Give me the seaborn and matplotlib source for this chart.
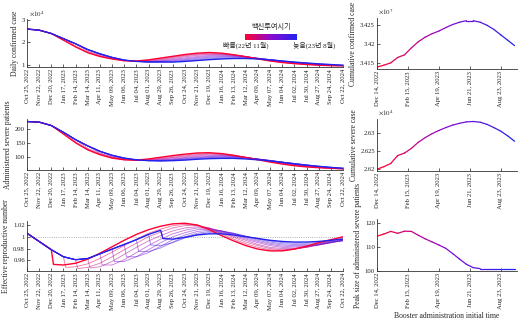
import numpy as np
import pandas as pd
import matplotlib
matplotlib.use('Agg')
import matplotlib.pyplot as plt
import matplotlib.dates as mdates
from matplotlib.colors import LinearSegmentedColormap
from matplotlib.cm import ScalarMappable
from matplotlib.ticker import FuncFormatter
import seaborn as sns

# ---------------- data ----------------
tick_dates = pd.date_range('2022-10-25', periods=27, freq='28D')
boost_idx = [2, 3, 4, 5, 6, 7, 8, 9, 10, 11]   # booster start (index into tick_dates)

daily_base = [2.60, 2.55, 2.40, 2.17, 1.94, 1.68, 1.49, 1.33, 1.21, 1.15, 1.13, 1.13]
daily_post = [
    [2.10, 1.80, 1.54, 1.37, 1.26, 1.18, 1.17, 1.22, 1.30, 1.38, 1.46, 1.52, 1.55, 1.52, 1.45, 1.36, 1.26, 1.17, 1.10, 1.05, 1.01, 0.98, 0.96, 0.95],
    [1.84, 1.57, 1.39, 1.27, 1.18, 1.16, 1.20, 1.27, 1.35, 1.43, 1.49, 1.52, 1.50, 1.45, 1.37, 1.27, 1.18, 1.11, 1.06, 1.02, 0.99, 0.97, 0.95],
    [1.61, 1.41, 1.28, 1.19, 1.15, 1.18, 1.24, 1.32, 1.40, 1.46, 1.49, 1.48, 1.44, 1.37, 1.28, 1.19, 1.12, 1.07, 1.03, 0.99, 0.97, 0.96],
    [1.44, 1.30, 1.20, 1.15, 1.16, 1.21, 1.28, 1.36, 1.42, 1.46, 1.46, 1.43, 1.37, 1.29, 1.20, 1.13, 1.08, 1.03, 1.00, 0.98, 0.96],
    [1.32, 1.21, 1.15, 1.14, 1.18, 1.24, 1.31, 1.37, 1.42, 1.43, 1.41, 1.36, 1.29, 1.21, 1.14, 1.08, 1.04, 1.01, 0.98, 0.96],
    [1.21, 1.15, 1.13, 1.16, 1.21, 1.27, 1.33, 1.38, 1.40, 1.39, 1.36, 1.30, 1.23, 1.16, 1.10, 1.05, 1.01, 0.98, 0.96],
    [1.15, 1.12, 1.14, 1.18, 1.23, 1.29, 1.34, 1.37, 1.37, 1.34, 1.29, 1.23, 1.16, 1.10, 1.06, 1.02, 0.99, 0.97],
    [1.12, 1.12, 1.15, 1.20, 1.25, 1.30, 1.33, 1.34, 1.32, 1.28, 1.23, 1.17, 1.11, 1.07, 1.03, 1.00, 0.97],
    [1.11, 1.13, 1.17, 1.21, 1.26, 1.29, 1.31, 1.30, 1.27, 1.23, 1.17, 1.12, 1.08, 1.04, 1.01, 0.98],
    [1.12, 1.15, 1.19, 1.23, 1.26, 1.28, 1.28, 1.26, 1.22, 1.17, 1.12, 1.08, 1.04, 1.01, 0.98],
]

severe_base = [226, 224, 212, 188, 162, 140, 121, 107, 97, 91, 88, 87]
severe_post = [
    [182, 151, 126, 109, 97, 91, 90, 94, 100, 106, 111, 115, 116, 113, 107, 99, 91, 83, 76, 70, 66, 63, 61, 59],
    [154, 128, 111, 98, 91, 89, 92, 97, 103, 108, 112, 113, 112, 107, 100, 92, 85, 78, 72, 67, 64, 61, 59],
    [131, 113, 100, 92, 89, 91, 95, 100, 105, 109, 111, 110, 106, 100, 93, 86, 79, 73, 68, 64, 62, 59],
    [115, 101, 93, 89, 90, 93, 98, 102, 106, 108, 108, 105, 100, 93, 87, 80, 74, 69, 65, 62, 60],
    [103, 94, 89, 89, 91, 95, 99, 103, 105, 106, 104, 99, 94, 88, 81, 75, 70, 66, 63, 60],
    [95, 90, 88, 90, 93, 97, 100, 103, 104, 103, 99, 94, 88, 82, 76, 71, 67, 63, 60],
    [90, 88, 89, 91, 95, 98, 101, 102, 101, 98, 94, 89, 83, 77, 72, 67, 64, 61],
    [88, 88, 90, 93, 96, 99, 100, 100, 97, 93, 89, 83, 78, 73, 68, 64, 61],
    [87, 89, 91, 94, 97, 98, 98, 96, 93, 88, 83, 78, 73, 68, 65, 61],
    [88, 90, 93, 95, 96, 96, 94, 91, 87, 82, 77, 72, 68, 64, 61],
]

rt_base = [1.006, 0.992, 0.978, 0.966, 0.961, 0.963, 0.971, 0.979, 0.987, 0.995, 1.004, 1.011]
rt_drop = [0.953, 0.948, 0.946, 0.947, 0.952, 0.958, 0.966, 0.975, 0.986, 0.997]
rt_post = [
    [0.952, 0.955, 0.962, 0.972, 0.983, 0.994, 1.004, 1.012, 1.018, 1.022, 1.023, 1.020, 1.012, 1.002, 0.993, 0.985, 0.979, 0.976, 0.976, 0.979, 0.984, 0.990, 0.995, 1.000],
    [0.949, 0.954, 0.963, 0.974, 0.985, 0.996, 1.006, 1.013, 1.019, 1.021, 1.020, 1.014, 1.005, 0.996, 0.988, 0.982, 0.978, 0.977, 0.979, 0.983, 0.988, 0.993, 0.998],
    [0.948, 0.955, 0.966, 0.978, 0.989, 1.000, 1.008, 1.015, 1.019, 1.019, 1.015, 1.007, 0.999, 0.991, 0.985, 0.980, 0.978, 0.979, 0.982, 0.987, 0.992, 0.996],
    [0.949, 0.958, 0.970, 0.982, 0.993, 1.002, 1.010, 1.015, 1.017, 1.015, 1.009, 1.001, 0.994, 0.987, 0.982, 0.980, 0.980, 0.982, 0.986, 0.990, 0.995],
    [0.952, 0.961, 0.973, 0.985, 0.996, 1.005, 1.011, 1.015, 1.014, 1.010, 1.003, 0.996, 0.990, 0.985, 0.982, 0.981, 0.983, 0.986, 0.990, 0.994],
    [0.958, 0.966, 0.978, 0.990, 1.000, 1.007, 1.012, 1.013, 1.010, 1.005, 0.998, 0.992, 0.987, 0.984, 0.983, 0.984, 0.986, 0.990, 0.994],
    [0.966, 0.973, 0.984, 0.995, 1.003, 1.009, 1.011, 1.010, 1.006, 1.000, 0.994, 0.989, 0.986, 0.985, 0.985, 0.987, 0.990, 0.993],
    [0.975, 0.981, 0.991, 1.000, 1.006, 1.009, 1.009, 1.006, 1.001, 0.996, 0.991, 0.988, 0.987, 0.987, 0.988, 0.991, 0.993],
    [0.985, 0.990, 0.998, 1.004, 1.007, 1.007, 1.005, 1.001, 0.997, 0.993, 0.990, 0.989, 0.989, 0.990, 0.992, 0.994],
    [0.996, 0.999, 1.003, 1.005, 1.005, 1.003, 1.000, 0.997, 0.994, 0.992, 0.991, 0.991, 0.992, 0.994, 0.996],
]

# right column: booster initial time (biweekly)
init_dates = pd.date_range('2022-12-14', periods=21, freq='14D')
cum_conf = [3.4140, 3.4145, 3.4151, 3.4165, 3.4172, 3.4190, 3.4206, 3.4218, 3.4227, 3.4234, 3.4243,
            3.4251, 3.4257, 3.4261, 3.4261, 3.4257, 3.4249, 3.4238, 3.4224, 3.4210, 3.4196]
cum_severe = [2.6200, 2.6207, 2.6216, 2.6238, 2.6245, 2.6258, 2.6275, 2.6288, 2.6299, 2.6308, 2.6316,
              2.6323, 2.6328, 2.6332, 2.6333, 2.6331, 2.6325, 2.6316, 2.6306, 2.6293, 2.6278]
peak_severe = [114.6, 115.5, 116.6, 115.8, 116.7, 116.6, 115.0, 113.5, 112.2, 110.9, 109.5,
               107.3, 105.0, 102.8, 101.4, 101.0, 101.0, 101.0, 101.0, 101.0, 101.0]

right_ticks = pd.to_datetime(['2022-12-14', '2023-02-15', '2023-04-19', '2023-06-21', '2023-08-23'])

# ---------------- style ----------------
sns.set_theme(style='ticks')
plt.rcParams['font.family'] = ['Liberation Serif', 'Noto Sans CJK KR']
plt.rcParams['mathtext.fontset'] = 'stix'
plt.rcParams['axes.linewidth'] = 0.6

cmap = LinearSegmentedColormap.from_list('rb', ['#ff0033', '#8a0ad0', '#2222ee'])

W, H = 526, 325
fig = plt.figure(figsize=(W / 100, H / 100), dpi=100)


def add_ax(x0, y0, x1, y1):
    return fig.add_axes([x0 / W, 1 - y1 / H, (x1 - x0) / W, (y1 - y0) / H])


def style(ax):
    for s in ['top', 'right']:
        ax.spines[s].set_visible(False)
    for s in ['left', 'bottom']:
        ax.spines[s].set_color('#333333')
        ax.spines[s].set_linewidth(0.6)
    ax.tick_params(direction='in', length=2, width=0.5, labelsize=4.8, pad=1.5, colors='#222222')


fmt_date = mdates.DateFormatter('%b %d, %Y')
ncurve = len(boost_idx)


def curve_frame(k, base, post, drop):
    b = boost_idx[k]
    xs = list(tick_dates[:b + 1])
    ys = list(base[:b + 1])
    if drop is not None:
        xs.append(tick_dates[b] + pd.Timedelta(days=5))
        ys.append(drop[k])
    xs += list(tick_dates[b + 1:])
    ys += list(post[k])
    return pd.DataFrame({'date': xs, 'val': ys})


def draw_left(ax, base, post, drop=None):
    order = list(range(1, ncurve - 1)) + [0, ncurve - 1]
    for k in order:
        df = curve_frame(k, base, post, drop)
        edge = k in (0, ncurve - 1)
        sns.lineplot(data=df, x='date', y='val', ax=ax, color=cmap(k / (ncurve - 1)),
                     lw=1.0 if edge else 0.6, alpha=1.0 if edge else 0.55,
                     estimator=None, sort=False, legend=False)
    ax.set_xlim(tick_dates[0], tick_dates[-1])
    ax.set_xticks(tick_dates)
    ax.xaxis.set_major_formatter(fmt_date)
    plt.setp(ax.get_xticklabels(), rotation=90, ha='center')
    ax.set_xlabel('')
    style(ax)


def draw_right(ax, vals):
    for i in range(len(vals) - 1):
        seg = pd.DataFrame({'date': init_dates[i:i + 2], 'val': vals[i:i + 2]})
        sns.lineplot(data=seg, x='date', y='val', ax=ax, color=cmap(i / (len(vals) - 2)),
                     lw=0.9, estimator=None, sort=False, legend=False)
    ax.set_xlim(init_dates[0], pd.Timestamp('2023-09-25'))
    ax.set_xticks(right_ticks)
    ax.xaxis.set_major_formatter(fmt_date)
    plt.setp(ax.get_xticklabels(), rotation=90, ha='center')
    ax.set_xlabel('')
    style(ax)


gfmt = FuncFormatter(lambda v, p: '%g' % round(v, 6))

# left column
ax1 = add_ax(27, 19, 343, 67)
draw_left(ax1, daily_base, daily_post)
ax1.set_ylim(0.9, 3.05)
ax1.set_yticks([1, 2, 3])
ax1.yaxis.set_major_formatter(gfmt)
ax1.set_ylabel('Daily confirmed case', fontsize=5.5, labelpad=2)
ax1.text(0.005, 1.03, r'$\times 10^4$', transform=ax1.transAxes, fontsize=5, va='bottom')

ax2 = add_ax(27, 119, 343, 170)
draw_left(ax2, severe_base, severe_post)
ax2.set_ylim(55, 235)
ax2.set_yticks([100, 150, 200])
ax2.set_ylabel('Administered severe patients', fontsize=5.5, labelpad=2)

ax3 = add_ax(27, 221, 343, 271)
ax3.axhline(1.0, color='#999999', ls=':', lw=0.6)
draw_left(ax3, rt_base, rt_post, rt_drop)
ax3.set_ylim(0.9418, 1.0268)
ax3.set_yticks([0.96, 0.98, 1.0, 1.02])
ax3.yaxis.set_major_formatter(gfmt)
ax3.set_ylabel('Effective reproductive number', fontsize=5.5, labelpad=2)

# right column
ax4 = add_ax(377, 18, 517, 69)
draw_right(ax4, cum_conf)
ax4.set_ylim(3.4135, 3.4268)
ax4.set_yticks([3.415, 3.42, 3.425])
ax4.yaxis.set_major_formatter(gfmt)
ax4.set_ylabel('Cumulative confirmed case', fontsize=5.5, labelpad=2)
ax4.text(0.005, 1.03, r'$\times 10^7$', transform=ax4.transAxes, fontsize=5, va='bottom')

ax5 = add_ax(377, 119, 517, 171)
draw_right(ax5, cum_severe)
ax5.set_ylim(2.6195, 2.6340)
ax5.set_yticks([2.62, 2.625, 2.63])
ax5.yaxis.set_major_formatter(gfmt)
ax5.set_ylabel('Cumulative severe case', fontsize=5.5, labelpad=2)
ax5.text(0.005, 1.03, r'$\times 10^4$', transform=ax5.transAxes, fontsize=5, va='bottom')

ax6 = add_ax(377, 219, 517, 271)
draw_right(ax6, peak_severe)
ax6.set_ylim(100, 121.8)
ax6.set_yticks([100, 110, 120])
ax6.set_ylabel('Peak size of administered severe patients', fontsize=5.5, labelpad=2)
ax6.set_xlabel('Booster administration initial time', fontsize=5.5, labelpad=2)

# colour legend
cax = add_ax(245, 34, 297, 40)
cb = fig.colorbar(ScalarMappable(cmap=cmap), cax=cax, orientation='horizontal')
cb.set_ticks([])
cb.outline.set_visible(False)
fig.text(271 / W, 1 - 27 / H, '백신투여시기', ha='center', va='center', fontsize=5.2,
         family=['Noto Sans CJK KR'], color='#222222')
fig.text(246 / W, 1 - 45 / H, '빠름(22년 11월)', ha='center', va='center', fontsize=5.0, color='#222222')
fig.text(314 / W, 1 - 45 / H, '늦음(23년 8월)', ha='center', va='center', fontsize=5.0, color='#222222')

fig.savefig('out.png', dpi=100)
